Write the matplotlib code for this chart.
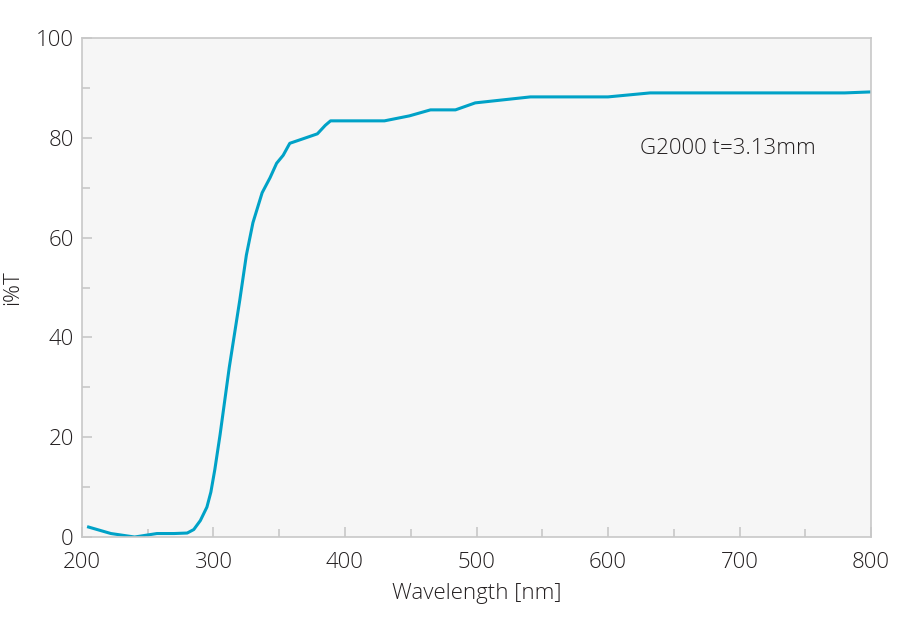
import numpy as np
from matplotlib import pyplot as plt
from matplotlib.ticker import MultipleLocator

# transmittance curve
wavelength = [205, 222, 240, 257, 270, 280, 285, 290, 295, 298, 301, 305, 312,
              320, 325, 330, 337, 343, 348, 353, 358, 368, 379, 385, 389, 430,
              449, 465, 484, 499, 541, 600, 632, 780, 800]
transmit = [2.0, 0.7, 0.0, 0.7, 0.7, 0.8, 1.5, 3.3, 6.0, 9.0, 13.5, 20.5, 34,
            47.5, 56.5, 63, 69, 72, 74.9, 76.5, 78.9, 79.8, 80.8, 82.5, 83.4,
            83.4, 84.4, 85.6, 85.6, 87.0, 88.2, 88.2, 89.0, 89.0, 89.2]
label = 'G2000 t=3.13mm'

plt.rcParams['font.family'] = ['Open Sans', 'DejaVu Sans']
plt.rcParams['font.weight'] = 'light'
txt = '#231f20'
edge = '#c8c8c8'
fs = 16

fig = plt.figure(figsize=(9, 6.4), dpi=100)
ax = fig.add_axes([0.0911, 0.1609, 0.8767, 0.7797])
ax.set_facecolor('#f6f6f6')

ax.plot(wavelength, transmit, color='#00a2c7', lw=2.2)

ax.set_xlim(200, 800)
ax.set_ylim(0, 100)
ax.xaxis.set_major_locator(MultipleLocator(100))
ax.xaxis.set_minor_locator(MultipleLocator(50))
ax.yaxis.set_major_locator(MultipleLocator(20))
ax.yaxis.set_minor_locator(MultipleLocator(10))
ax.tick_params(which='major', direction='in', length=7.2, width=1.2, color=edge,
               labelsize=fs, labelcolor=txt)
ax.tick_params(which='minor', direction='in', length=5.8, width=1.2, color=edge)
ax.tick_params(axis='x', pad=11)
ax.tick_params(axis='y', pad=6)
for s in ax.spines.values():
    s.set_color(edge)
    s.set_linewidth(1.2)

ax.set_xlabel('Wavelength [nm]', fontsize=fs, color=txt, labelpad=7,
              fontweight='light')
ax.set_ylabel('i%T', fontsize=fs, color=txt, fontweight='light')
ax.yaxis.set_label_coords(-0.074, 0.5)

ax.text(624, 77.8, label, fontsize=fs, color=txt, va='center', ha='left',
        fontweight='light')

plt.savefig('out.png', dpi=100)
